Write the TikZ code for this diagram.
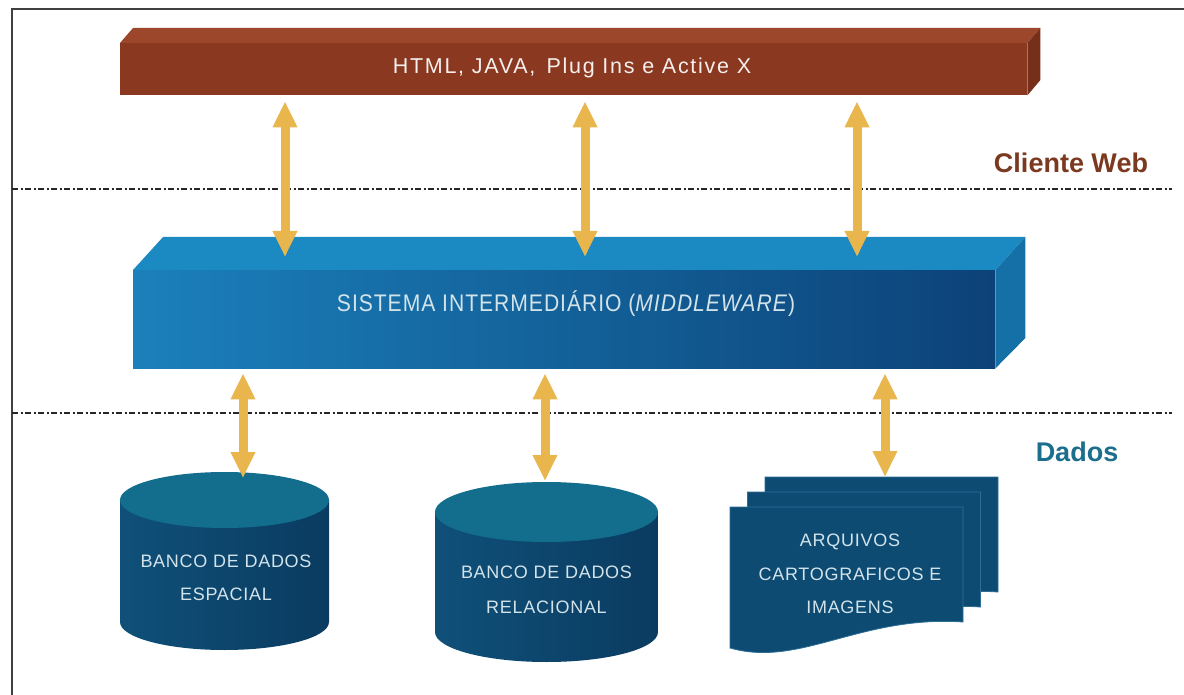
\documentclass[tikz,border=0pt]{standalone}
\usepackage{fontspec}
\setmainfont{Liberation Sans}
\newfontfamily\barfont[LetterSpace=8]{Liberation Sans}
\newfontfamily\midfont[FakeStretch=0.88,LetterSpace=4]{Liberation Sans}
\newfontfamily\boxfont[LetterSpace=4]{Liberation Sans}
\usetikzlibrary{arrows.meta,calc}

\definecolor{brickfront}{HTML}{8A3820}
\definecolor{bricktop}{HTML}{9C462B}
\definecolor{brickside}{HTML}{76301A}
\definecolor{midtop}{HTML}{1C8AC2}
\definecolor{midleft}{HTML}{1B80BB}
\definecolor{midmid}{HTML}{14629C}
\definecolor{midright}{HTML}{0C4278}
\definecolor{midside}{HTML}{1670A8}
\definecolor{drumbody}{HTML}{0F5079}
\definecolor{drumdark}{HTML}{0B3B60}
\definecolor{drumtop}{HTML}{136E8E}
\definecolor{sheet}{HTML}{0D4B73}
\definecolor{sheetedge}{HTML}{2D6E95}
\definecolor{pale}{HTML}{D2E3EA}
\definecolor{arrowgold}{HTML}{E8B64C}
\definecolor{webbrown}{HTML}{7B3A1F}
\definecolor{datateal}{HTML}{1B6E8C}

\tikzset{
  arr/.style={draw=arrowgold, line width=9pt,
    {Triangle[width=23pt,length=26pt]}-{Triangle[width=23pt,length=26pt]}},
  sep/.style={line width=1.3pt, black!85,
    dash pattern=on 6pt off 2.5pt on 2pt off 2.5pt},
  boxtext/.style={text=pale, align=center, inner sep=0pt},
  zonelabel/.style={font=\fontsize{27}{30}\selectfont\bfseries, inner sep=0pt}
}

\begin{document}
\begin{tikzpicture}[x=1pt,y=-1pt]
\useasboundingbox (0,0) rectangle (1184,695);
\fill[white] (0,0) rectangle (1184,695);

% frame
\draw[black!75, line width=1.3pt] (1184,9) -- (12,9) -- (12,695);

% zone separators
\draw[sep] (12,189) -- (1172,189);
\draw[sep] (12,413) -- (1172,413);

% client bar
\node[name=cli, fill=brickfront, minimum width=907pt, minimum height=52pt,
      inner sep=0pt, anchor=north west] at (120,43) {};
\fill[bricktop] (cli.north west) -- ++(13,-15) -- ($(cli.north east)+(13,-15)$)
  -- (cli.north east) -- cycle;
\fill[brickside] (cli.north east) -- ++(13,-15) -- ++(0,52) -- (cli.south east) -- cycle;
\node[name=clitext, text=white!92!brickfront, inner sep=0pt,
      font=\barfont\fontsize{21.5}{24}\selectfont] at (572,68)
  {HTML, JAVA,\, Plug Ins e Active X};

% middleware bar
\node[name=mid, shading=axis, left color=midleft, middle color=midmid,
      right color=midright, minimum width=862pt, minimum height=98pt,
      inner sep=0pt, anchor=north west] at (133,270) {};
\fill[midtop] (mid.north west) -- ++(30,-33) -- ($(mid.north east)+(30,-33)$)
  -- (mid.north east) -- cycle;
\fill[midside] (mid.north east) -- ++(30,-33) -- ++(0,101) -- (mid.south east) -- cycle;
\node[name=midtext, boxtext, font=\midfont\fontsize{24}{28}\selectfont] at (566,304)
  {SISTEMA INTERMEDIÁRIO (\textit{MIDDLEWARE})};

% spatial database drum
\shade[left color=drumbody, right color=drumdark]
  (120,500) -- (120,622) arc[start angle=180, end angle=0, x radius=104.5, y radius=28]
  -- (329,500) -- cycle;
\fill[drumtop] (224.5,500) ellipse[x radius=104.5, y radius=28];
\node[name=db1, boxtext, font=\boxfont\fontsize{18}{33}\selectfont] at (226,578)
  {BANCO DE DADOS\\ESPACIAL};
\coordinate (db1top) at (243,478);

% relational database drum
\shade[left color=drumbody, right color=drumdark]
  (435,512) -- (435,632) arc[start angle=180, end angle=0, x radius=111.5, y radius=30]
  -- (658,512) -- cycle;
\fill[drumtop] (546.5,512) ellipse[x radius=111.5, y radius=30];
\node[name=db2, boxtext, font=\boxfont\fontsize{18}{35}\selectfont] at (546.5,590)
  {BANCO DE DADOS\\RELACIONAL};
\coordinate (db2top) at (545,481);

% stacked map and image files
\foreach \dx/\dy in {35/-30, 17.5/-15, 0/0}{
  \begin{scope}[shift={(\dx,\dy)}]
    \fill[sheet, draw=sheetedge, line width=0.8pt]
      (730,507) -- (963,507) -- (963,622)
      .. controls (860,615) and (800,668) .. (730,648) -- cycle;
  \end{scope}
}
\node[name=arq, boxtext, font=\boxfont\fontsize{18}{33.5}\selectfont] at (850,574)
  {ARQUIVOS\\CARTOGRAFICOS E\\IMAGENS};
\coordinate (arqtop) at (885,477);

% zone labels
\node[name=web, zonelabel, text=webbrown] at (1071,163) {Cliente Web};
\node[name=dados, zonelabel, text=datateal] at (1077,452) {Dados};

% client <-> middleware links
\coordinate (c1) at (285,0);
\coordinate (c2) at (585,0);
\coordinate (c3) at (857,0);
\foreach \c in {c1,c2,c3}
  \draw[arr, shorten <=6pt, shorten >=13pt] (cli.south -| \c) -- (mid.north -| \c);

% middleware <-> data links
\draw[arr, shorten <=5pt] (mid.south -| db1top) -- (db1top);
\draw[arr, shorten <=5pt] (mid.south -| db2top) -- (db2top);
\draw[arr, shorten <=5pt] (mid.south -| arqtop) -- (arqtop);
\end{tikzpicture}
\end{document}
